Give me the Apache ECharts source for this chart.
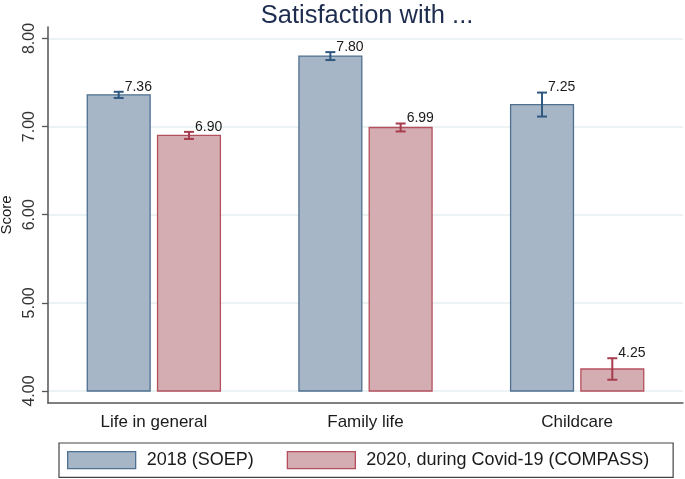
<!DOCTYPE html>
<html>
<head>
<meta charset="utf-8">
<script src="https://cdn.jsdelivr.net/npm/echarts@6/dist/echarts.min.js"></script>
<style>
html,body{margin:0;padding:0;background:#fff;}
#chart{width:685px;height:479px;}
</style>
</head>
<body>
<div id="chart"></div>
<script>
const categories = ['Life in general', 'Family life', 'Childcare'];
const seriesNames = ['2018 (SOEP)', '2020, during Covid-19 (COMPASS)'];
const values2018 = [7.36, 7.80, 7.25];
const values2020 = [6.90, 6.99, 4.25];
const err2018 = [0.035, 0.045, 0.136];
const err2020 = [0.04, 0.045, 0.122];
const yTicks = [4, 5, 6, 7, 8];
const barBase = 4;

const FONT = 'Liberation Sans, Arial, sans-serif';
const styles = [
  {fill: '#a6b6c6', stroke: '#4f7091', err: '#2f5880', offset: -0.166},
  {fill: '#d4adb2', stroke: '#b4505d', err: '#a63c4c', offset: 0.166}
];

function makeRender(si) {
  const st = styles[si];
  return function (params, api) {
    const ci = api.value(0);
    const v = api.value(1);
    const e = api.value(2);
    const band = api.size([1, 0])[0];
    const w = band * 0.297;
    const top = api.coord([ci, v]);
    const base = api.coord([ci, barBase]);
    const cx = top[0] + st.offset * band;
    const hi = api.coord([ci, v + e])[1];
    const lo = api.coord([ci, v - e])[1];
    const cap = 5;
    return {
      type: 'group',
      children: [
        {type: 'rect', shape: {x: cx - w / 2, y: top[1], width: w, height: base[1] - top[1]},
         style: {fill: st.fill, stroke: st.stroke, lineWidth: 1.3}},
        {type: 'line', shape: {x1: cx, y1: hi, x2: cx, y2: lo}, style: {stroke: st.err, lineWidth: 2}},
        {type: 'line', shape: {x1: cx - cap, y1: hi, x2: cx + cap, y2: hi}, style: {stroke: st.err, lineWidth: 2}},
        {type: 'line', shape: {x1: cx - cap, y1: lo, x2: cx + cap, y2: lo}, style: {stroke: st.err, lineWidth: 2}},
        {type: 'text', x: cx + 6, y: hi + 2,
         style: {text: v.toFixed(2), fill: '#1a1a1a', font: '14px ' + FONT, textAlign: 'left', textVerticalAlign: 'bottom'}}
      ]
    };
  };
}

const chart = echarts.init(document.getElementById('chart'), null, {renderer: 'canvas'});
chart.setOption({
  animation: false,
  backgroundColor: '#ffffff',
  title: {
    text: 'Satisfaction with ...',
    left: 362, textAlign: 'center', top: -2,
    textStyle: {fontFamily: FONT, fontSize: 25.5, fontWeight: 'normal', color: '#1e2d4f'}
  },
  grid: {left: 48, right: 2, top: 27, bottom: 76, containLabel: false, outerBoundsMode: 'none'},
  legend: {
    left: 59, top: 443,
    orient: 'horizontal',
    itemWidth: 68, itemHeight: 17, itemGap: 33,
    padding: [8, 24, 8, 8],
    borderColor: '#444', borderWidth: 1.2,
    textStyle: {fontFamily: FONT, fontSize: 18, color: '#1a1a1a', padding: [0, 0, 0, 6]},
    data: [
      {name: seriesNames[0], icon: 'rect', itemStyle: {color: styles[0].fill, borderColor: styles[0].stroke, borderWidth: 1.3}},
      {name: seriesNames[1], icon: 'rect', itemStyle: {color: styles[1].fill, borderColor: styles[1].stroke, borderWidth: 1.3}}
    ]
  },
  xAxis: {
    type: 'category',
    data: categories,
    axisLine: {lineStyle: {color: '#555', width: 1.5}},
    axisTick: {alignWithLabel: true, length: 5, lineStyle: {color: '#555', width: 1.3}},
    axisLabel: {fontFamily: FONT, fontSize: 17, color: '#1a1a1a', margin: 11},
    splitLine: {show: false}
  },
  yAxis: {
    type: 'value',
    min: 3.864, max: 8.13,
    name: 'Score',
    nameLocation: 'middle',
    nameGap: 31,
    nameRotate: 90,
    nameTextStyle: {fontFamily: FONT, fontSize: 15, color: '#1a1a1a'},
    axisLine: {show: true, lineStyle: {color: '#555', width: 1.5}},
    axisTick: {show: true, length: 6, customValues: yTicks, lineStyle: {color: '#555', width: 1.3}},
    axisLabel: {fontFamily: FONT, fontSize: 16, color: '#333', rotate: 90, margin: 10,
                customValues: yTicks, formatter: v => v.toFixed(2)},
    splitLine: {show: true, lineStyle: {color: '#e6eff1', width: 1.5}}
  },
  series: [
    {
      name: seriesNames[0], type: 'custom',
      itemStyle: {color: styles[0].fill, borderColor: styles[0].stroke},
      renderItem: makeRender(0),
      encode: {x: 0, y: 1},
      data: categories.map((c, i) => [i, values2018[i], err2018[i]])
    },
    {
      name: seriesNames[1], type: 'custom',
      itemStyle: {color: styles[1].fill, borderColor: styles[1].stroke},
      renderItem: makeRender(1),
      encode: {x: 0, y: 1},
      data: categories.map((c, i) => [i, values2020[i], err2020[i]])
    }
  ]
});
</script>
</body>
</html>
